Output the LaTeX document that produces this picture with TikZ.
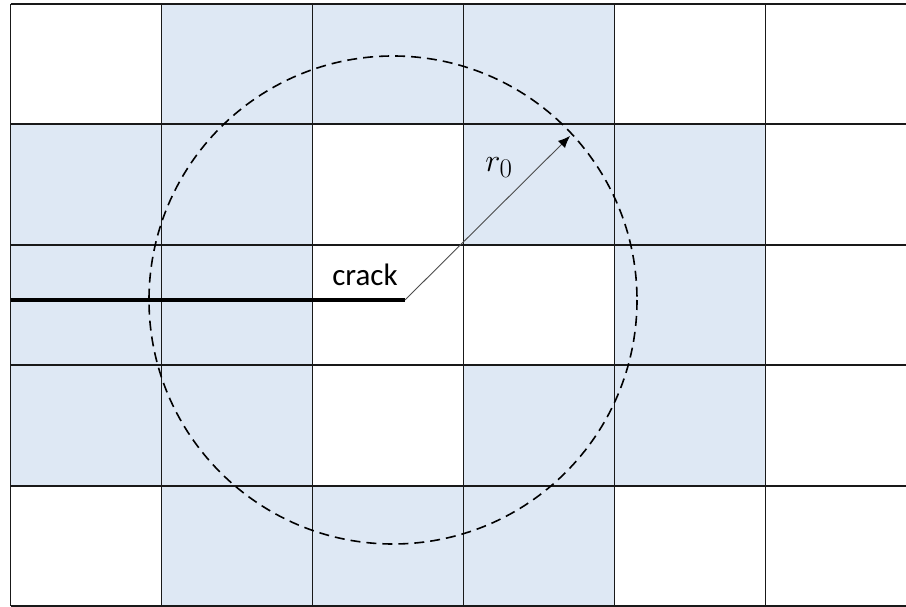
\documentclass[tikz,border=0pt]{standalone}
\usepackage{fontspec}
\setsansfont{Carlito}
\usetikzlibrary{arrows.meta}
\definecolor{cellblue}{RGB}{222,232,244}
\definecolor{gridline}{RGB}{25,25,25}
\tikzset{
  cell/.style={fill=cellblue,draw=none},
  gridstyle/.style={draw=gridline,line width=1.8pt},
  crackline/.style={line width=4pt,draw=black},
  radius line/.style={draw=black!70,line width=0.9pt,-{Latex[length=12pt,width=10pt,color=black]}},
  circlestyle/.style={draw=black,line width=1.6pt,dash pattern=on 10pt off 6pt},
}
\begin{document}
\begin{tikzpicture}[x=1pt,y=-1pt]
\useasboundingbox (0,0) rectangle (906,607);
% shaded cells: column i, row j
\foreach \i/\j in {1/0,2/0,3/0, 0/1,1/1,3/1,4/1, 0/2,1/2,4/2, 0/3,1/3,3/3,4/3, 1/4,2/4,3/4}{
  \fill[cell] ({10.5+151*\i},{4+120.4*\j}) rectangle ({10.5+151*(\i+1)},{4+120.4*(\j+1)});
}
% grid
\foreach \i in {0,...,6}{
  \draw[gridstyle] ({10.5+151*\i},4) -- ({10.5+151*\i},606);
}
\foreach \j in {0,...,5}{
  \draw[gridstyle] (10.5,{4+120.4*\j}) -- (920,{4+120.4*\j});
}
% crack
\coordinate (crackstart) at (10.5,300);
\coordinate (tip) at (405,300);
\coordinate (center) at (393,300);
\draw[crackline] (crackstart) -- (tip);
\node[font=\sffamily\fontsize{31}{36}\selectfont,anchor=base,inner sep=0pt] (cracklabel) at (365,285) {crack};
% circle
\draw[circlestyle] (center) circle[radius=244];
% radius arrow
\coordinate (rim) at (570,136);
\draw[radius line] (tip) -- (rim);
\node[font=\fontsize{24.88}{30}\selectfont,inner sep=0pt,scale=1.3,anchor=base west] (r0) at (485,171.5) {$r_0$};
\end{tikzpicture}
\end{document}
